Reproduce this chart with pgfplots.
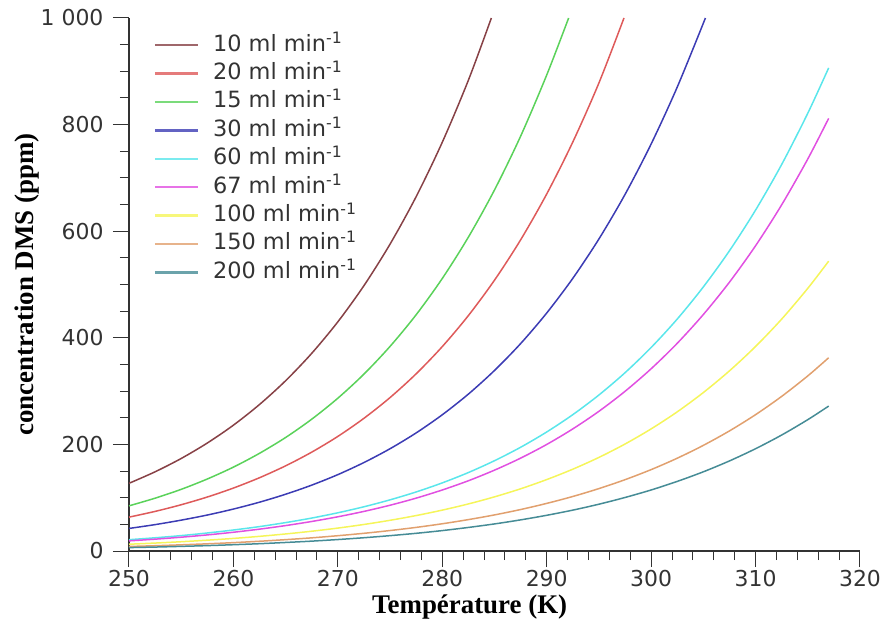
\documentclass[border=0pt]{standalone}
\usepackage{fontspec}
\setmainfont{DejaVu Sans}
\newfontfamily\labfont{Liberation Serif}
\usepackage{pgfplots}
\pgfplotsset{compat=1.18}
\definecolor{c10}{RGB}{135,65,70}
\definecolor{c20}{RGB}{222,90,90}
\definecolor{c15}{RGB}{90,210,90}
\definecolor{c30}{RGB}{60,60,180}
\definecolor{c60}{RGB}{90,230,235}
\definecolor{c67}{RGB}{225,80,225}
\definecolor{c100}{RGB}{245,245,90}
\definecolor{c150}{RGB}{225,160,110}
\definecolor{c200}{RGB}{70,140,150}
\begin{document}
\begin{tikzpicture}
\begin{axis}[
  at={(0,0)}, anchor=south west,
  scale only axis, width=731bp, height=533bp,
  xmin=250, xmax=320, ymin=0, ymax=1000,
  axis lines=left, axis line style={-, line width=1.2bp, black!80},
  tick align=outside, major tick length=16bp, minor tick length=9bp,
  tick style={line width=1bp, black!80},
  xtick={250,260,...,320}, minor x tick num=4,
  ytick={0,200,...,1000}, minor y tick num=3,
  tick label style={font=\fontsize{22}{26}\selectfont, text=black!80},
  /pgf/number format/assume math mode=true,
  /pgf/number format/1000 sep={\ },
  yticklabel style={xshift=-6bp},
  xlabel={Température (K)}, ylabel={concentration DMS (ppm)},
  label style={font=\labfont\bfseries\fontsize{27}{30}\selectfont},
  xlabel style={at={(axis description cs:0.466,-0.106)}, anchor=center},
  ylabel style={at={(axis description cs:-0.1395,0.5)}, anchor=center},
  legend style={draw=none, fill=none, at={(axis description cs:0.0335,0.972)}, anchor=north west,
    font=\fontsize{22.5}{25}\selectfont, inner sep=0pt, row sep=4.4bp,
    nodes={inner sep=2bp, text height=16bp, text depth=4bp, text=black!80},
    /tikz/every odd column/.append style={column sep=12bp}},
  legend cell align=left,
  legend image code/.code={\draw[#1, line width=2.4bp, opacity=0.8] (0bp,0bp) -- (43bp,0bp);},
  every axis plot/.append style={line width=1.5bp, smooth},
]
\addplot[c10] coordinates {(250,127.0)(252.5,148.6)(255,173.6)(257.5,202.6)(260,236.1)(262.5,274.9)(265,319.5)(267.5,370.9)(270,430.0)(272.5,497.9)(275,575.8)(277.5,664.9)(280,766.9)(282.5,883.3)(284.7,1000)};
\addlegendentry{10 ml min\textsuperscript{-1}}
\addplot[c20] coordinates {(250,63.5)(252.5,74.3)(255,86.8)(257.5,101.3)(260,118.1)(262.5,137.5)(265,159.8)(267.5,185.5)(270,215.0)(272.5,249.0)(275,287.9)(277.5,332.5)(280,383.5)(282.5,441.7)(285,508.1)(287.5,583.7)(290,669.8)(292.5,767.4)(295,878.1)(297.4,1000)};
\addlegendentry{20 ml min\textsuperscript{-1}}
\addplot[c15] coordinates {(250,84.7)(252.5,99.1)(255,115.7)(257.5,135.1)(260,157.4)(262.5,183.3)(265,213.0)(267.5,247.3)(270,286.7)(272.5,331.9)(275,383.9)(277.5,443.3)(280,511.3)(282.5,588.9)(285,677.4)(287.5,778.2)(290,893.0)(292.1,1000)};
\addlegendentry{15 ml min\textsuperscript{-1}}
\addplot[c30] coordinates {(250,42.3)(252.5,49.5)(255,57.9)(257.5,67.5)(260,78.7)(262.5,91.6)(265,106.5)(267.5,123.6)(270,143.3)(272.5,166.0)(275,191.9)(277.5,221.6)(280,255.6)(282.5,294.4)(285,338.7)(287.5,389.1)(290,446.5)(292.5,511.6)(295,585.4)(297.5,669.0)(300,763.6)(302.5,870.4)(305.2,1000)};
\addlegendentry{30 ml min\textsuperscript{-1}}
\addplot[c60] coordinates {(250,21.2)(252.5,24.8)(255,28.9)(257.5,33.8)(260,39.4)(262.5,45.8)(265,53.3)(267.5,61.8)(270,71.7)(272.5,83.0)(275,96.0)(277.5,110.8)(280,127.8)(282.5,147.2)(285,169.4)(287.5,194.6)(290,223.3)(292.5,255.8)(295,292.7)(297.5,334.5)(300,381.8)(302.5,435.2)(305,495.5)(307.5,563.3)(310,639.6)(312.5,725.2)(315,821.3)(317,906.4)};
\addlegendentry{60 ml min\textsuperscript{-1}}
\addplot[c67] coordinates {(250,19.0)(252.5,22.2)(255,25.9)(257.5,30.2)(260,35.2)(262.5,41.0)(265,47.7)(267.5,55.4)(270,64.2)(272.5,74.3)(275,85.9)(277.5,99.2)(280,114.5)(282.5,131.8)(285,151.7)(287.5,174.2)(290,199.9)(292.5,229.1)(295,262.1)(297.5,299.6)(300,341.9)(302.5,389.7)(305,443.7)(307.5,504.4)(310,572.7)(312.5,649.5)(315,735.5)(317,811.7)};
\addlegendentry{67 ml min\textsuperscript{-1}}
\addplot[c100] coordinates {(250,12.7)(252.5,14.9)(255,17.4)(257.5,20.3)(260,23.6)(262.5,27.5)(265,32.0)(267.5,37.1)(270,43.0)(272.5,49.8)(275,57.6)(277.5,66.5)(280,76.7)(282.5,88.3)(285,101.6)(287.5,116.7)(290,134.0)(292.5,153.5)(295,175.6)(297.5,200.7)(300,229.1)(302.5,261.1)(305,297.3)(307.5,338.0)(310,383.7)(312.5,435.1)(315,492.8)(317,543.8)};
\addlegendentry{100 ml min\textsuperscript{-1}}
\addplot[c150] coordinates {(250,8.5)(252.5,9.9)(255,11.6)(257.5,13.5)(260,15.7)(262.5,18.3)(265,21.3)(267.5,24.7)(270,28.7)(272.5,33.2)(275,38.4)(277.5,44.3)(280,51.1)(282.5,58.9)(285,67.7)(287.5,77.8)(290,89.3)(292.5,102.3)(295,117.1)(297.5,133.8)(300,152.7)(302.5,174.1)(305,198.2)(307.5,225.3)(310,255.8)(312.5,290.1)(315,328.5)(317,362.6)};
\addlegendentry{150 ml min\textsuperscript{-1}}
\addplot[c200] coordinates {(250,6.4)(252.5,7.4)(255,8.7)(257.5,10.1)(260,11.8)(262.5,13.7)(265,16.0)(267.5,18.5)(270,21.5)(272.5,24.9)(275,28.8)(277.5,33.2)(280,38.3)(282.5,44.2)(285,50.8)(287.5,58.4)(290,67.0)(292.5,76.7)(295,87.8)(297.5,100.4)(300,114.5)(302.5,130.6)(305,148.6)(307.5,169.0)(310,191.9)(312.5,217.6)(315,246.4)(317,271.9)};
\addlegendentry{200 ml min\textsuperscript{-1}}
\end{axis}
\pgfresetboundingbox
\path[use as bounding box] (-129bp,-75bp) rectangle (754bp,551bp);
\end{tikzpicture}
\end{document}
